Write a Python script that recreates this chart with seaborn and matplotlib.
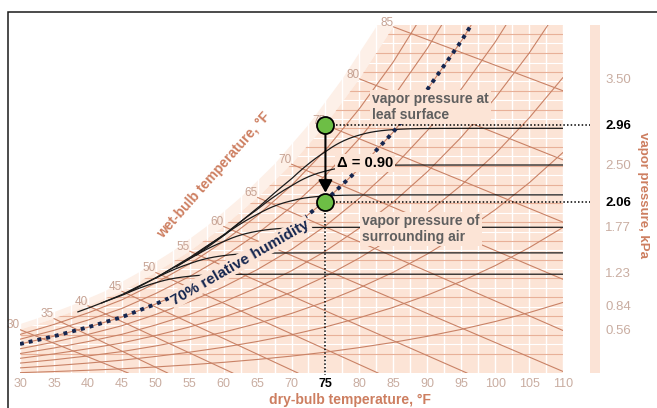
import numpy as np
import pandas as pd
import matplotlib
matplotlib.use("Agg")
import matplotlib.pyplot as plt
import seaborn as sns
from matplotlib.patches import Rectangle
from matplotlib.ticker import MultipleLocator

# ---------------- data ----------------
dry_bulb = [30, 35, 40, 45, 50, 55, 60, 65, 70, 75, 80, 85, 90, 95, 100, 105, 110]
sat_vp = [0.56, 0.69, 0.84, 1.01, 1.23, 1.48, 1.77, 2.11, 2.50, 2.96, 3.50, 4.11,
          4.82, 5.63, 6.55, 7.60, 8.79]
rh_levels = [0.1, 0.2, 0.3, 0.4, 0.5, 0.6, 0.7, 0.8, 0.9]
rh_highlight = 0.7

wb_temps = [30, 35, 40, 45, 50, 55, 60, 65, 70, 75, 80, 85]
wb_end_T = [46, 51.8, 61.4, 71, 82.8, 95.9, 110, 110, 110, 110, 110, 110]
wb_end_vp = [0.05, 0.05, 0.05, 0.05, 0.05, 0.05, 0.07, 0.55, 1.15, 1.82, 2.55, 3.36]

humidity_lines = [0.28, 0.50, 0.72, 0.94, 1.16, 1.38, 1.60, 1.82, 2.04, 2.26,
                  2.48, 2.70, 2.92, 3.14, 3.36, 3.58, 3.80, 4.03]

black_levels = [2.92, 2.49, 2.14, 1.76, 1.46, 1.21]
black_start = [56, 53, 50, 46, 42, 38.5]
black_offset = [0.10, 0.08, 0.06, 0.05, 0.03, 0.02]

leaf_T = 75
leaf_vp = 2.96
air_vp = 2.06
delta_label = "Δ = 0.90"

x_ticks = [30, 35, 40, 45, 50, 55, 60, 65, 70, 75, 80, 85, 90, 95, 100, 105, 110]
right_ticks = [3.50, 2.96, 2.50, 2.06, 1.77, 1.23, 1.03, 0.84, 0.56]
right_labels = ["3.50", "2.96", "2.50", "2.06", "1.77", "1.23", "", "0.84", "0.56"]

# ---------------- style ----------------
sns.set_theme(style="white")
plt.rcParams["font.family"] = ["Liberation Sans", "DejaVu Sans"]

peach = "#fce4d6"
band = "#fdf0e8"
brown = "#c98266"
salmon = "#e8b098"
title_c = "#cd7e60"
tick_c = "#c9ada1"
wb_c = "#c6a293"
gray_txt = "#5f5f5f"
navy = "#15264f"
green = "#6dbe45"

W, H = 657, 408
fig = plt.figure(figsize=(W / 100, H / 100), dpi=100)
fig.patch.set_facecolor("white")
ax = fig.add_axes([20 / W, 1 - 373 / H, 543 / W, 348 / H])
Y0, Y1 = 0.052, 4.131
ax.set_xlim(30, 110)
ax.set_ylim(Y0, Y1)
for s in ax.spines.values():
    s.set_visible(False)

T = np.array(dry_bulb, dtype=float)
S = np.array(sat_vp, dtype=float)

# light band outside saturation curve
ax.fill(np.r_[T - 2.5, T[::-1]], np.r_[S, S[::-1]], color=band, lw=0, zorder=0.15)
# saturated region
fill = ax.fill_between(T, Y0, S, color=peach, lw=0, zorder=0.2)
clip = fill.get_paths()[0]

# white grid
ax.set_axisbelow(True)
ax.xaxis.set_minor_locator(MultipleLocator(2.5))
ax.grid(True, which="both", axis="x", color="white", lw=1.0)
ax.grid(False, axis="y")
h = np.array(humidity_lines)
wl = ax.hlines((h[:-1] + h[1:]) / 2, 30, 110, colors="white", lw=0.8, zorder=0.6)
wl.set_clip_path(clip, ax.transData)
hl = ax.hlines(h, 30, 110, colors=salmon, lw=0.8, zorder=1)
hl.set_clip_path(clip, ax.transData)

# relative humidity curves
rows = [{"T": t, "vp": rh * s, "rh": rh} for rh in rh_levels for t, s in zip(dry_bulb, sat_vp)]
df = pd.DataFrame(rows)
sns.lineplot(data=df, x="T", y="vp", units="rh", estimator=None, color=brown,
             lw=0.8, ax=ax, legend=False, sort=False, zorder=2)

# wet-bulb lines and labels
for tw, te, ve in zip(wb_temps, wb_end_T, wb_end_vp):
    s0 = sat_vp[dry_bulb.index(tw)]
    ax.plot([tw, te], [s0, ve], color=brown, lw=0.8, zorder=2)
    ax.text(tw, s0 + 0.05, str(tw), ha="right", va="center", fontsize=8.5,
            color=wb_c, clip_on=False, zorder=3)

# black curves
for L, t0, off in zip(black_levels, black_start, black_offset):
    tg = np.linspace(t0, 110, 300)
    sg = np.interp(tg, T, S) - off
    k = 0.12 * L
    yg = -k * np.logaddexp(-sg / k, -L / k)
    ax.plot(tg, yg, color="#1a1a1a", lw=0.9, zorder=3)

# 70% RH dotted highlight
df70 = pd.DataFrame({"T": dry_bulb, "vp": [rh_highlight * s for s in sat_vp]})
sns.lineplot(data=df70, x="T", y="vp", color=navy, lw=2.8, ax=ax,
             linestyle=(0, (1, 1.3)), zorder=5)

box = dict(boxstyle="square,pad=0.15", fc=peach, ec="none")
ax.text(62.4, 1.35, "70% relative humidity", rotation=30, rotation_mode="anchor",
        ha="center", va="center", fontsize=11, fontweight="bold", color=navy,
        bbox=dict(boxstyle="square,pad=0.1", fc=peach, ec="none"), zorder=6)
ax.text(81.9, 3.17, "vapor pressure at\nleaf surface", ha="left", va="center",
        fontsize=10, fontweight="bold", color=gray_txt, linespacing=1.2,
        bbox=box, zorder=6)
ax.text(76.7, 2.51, delta_label, ha="left", va="center", fontsize=10.5,
        fontweight="bold", color="black", bbox=box, zorder=6)
ax.text(80.4, 1.74, "vapor pressure of\nsurrounding air", ha="left", va="center",
        fontsize=10, fontweight="bold", color=gray_txt, linespacing=1.2,
        bbox=box, zorder=6)
ax.text(58.6, 2.37, "wet-bulb temperature, °F", rotation=48.5, rotation_mode="anchor",
        ha="center", va="center", fontsize=10, fontweight="bold", color=title_c)

# reference dotted lines
px_per_T = 543 / 80.0
px_per_vp = 348 / (Y1 - Y0)
x_end = 110 + 37 / px_per_T
dot_ls = (0, (1, 1.4))
for v in (leaf_vp, air_vp):
    ax.plot([leaf_T, x_end], [v, v], color="black", lw=1.1, ls=dot_ls,
            clip_on=False, zorder=7)
ax.plot([leaf_T, leaf_T], [air_vp, Y0 - 2 / px_per_vp], color="black", lw=1.1,
        ls=dot_ls, clip_on=False, zorder=7)

# arrow
ax.annotate("", xy=(leaf_T, air_vp + 9 / px_per_vp), xytext=(leaf_T, leaf_vp),
            arrowprops=dict(arrowstyle="-|>,head_length=0.75,head_width=0.42",
                            color="black", lw=1.5, shrinkA=0, shrinkB=0,
                            mutation_scale=10), zorder=8)

# dots
sns.scatterplot(x=[leaf_T, leaf_T], y=[leaf_vp, air_vp], s=150, color=green,
                edgecolor="black", linewidth=1.3, ax=ax, zorder=10, clip_on=False)

# x axis
ax.set_xticks(x_ticks)
ax.set_xticklabels([str(t) for t in x_ticks])
ax.set_yticks([])
ax.tick_params(axis="x", which="both", length=0, pad=3.5, labelsize=9, labelcolor=tick_c)
for lbl in ax.get_xticklabels():
    if lbl.get_text() == str(leaf_T):
        lbl.set_fontweight("bold")
        lbl.set_color("black")
        lbl.set_fontsize(9)
ax.set_xlabel("dry-bulb temperature, °F", fontsize=10, fontweight="bold", color=title_c)
ax.xaxis.set_label_coords((350 - 20) / 543, (373 - 400) / 348)
ax.xaxis.label.set_va("center")
ax.set_ylabel("")

# right axis
ax2 = ax.twinx()
ax2.set_ylim(Y0, Y1)
for s in ["top", "left", "bottom"]:
    ax2.spines[s].set_visible(False)
ax2.spines["right"].set_position(("outward", 23))
ax2.spines["right"].set_linewidth(7.2)
ax2.spines["right"].set_color("#fbe3d6")
ax2.spines["right"].set_capstyle("butt")
ax2.set_yticks(right_ticks)
ax2.set_yticklabels(right_labels)
ax2.tick_params(axis="y", direction="inout", length=6, width=1, color="#e3a98f",
                pad=4.3, labelsize=9.5, labelcolor=tick_c)
for t, v in zip(ax2.yaxis.get_major_ticks(), right_ticks):
    if v in (leaf_vp, air_vp):
        t.tick2line.set_visible(False)
        t.label2.set_fontweight("bold")
        t.label2.set_color("black")
        t.label2.set_fontsize(9.5)
ax2.set_ylabel("vapor pressure, kPa", rotation=270, fontsize=9.5,
               fontweight="bold", color=title_c)
ax2.yaxis.set_label_coords((643 - 20) / 543, (373 - 195) / 348)
ax2.yaxis.label.set_va("center")
ax2.grid(False)

# figure border
fig.add_artist(Rectangle((8 / W, -0.05), 1.1, 1 - 11.5 / H + 0.05,
                         transform=fig.transFigure, fill=False, lw=1.1,
                         ec="#1a1a1a"))

fig.savefig("out.png", dpi=100)
